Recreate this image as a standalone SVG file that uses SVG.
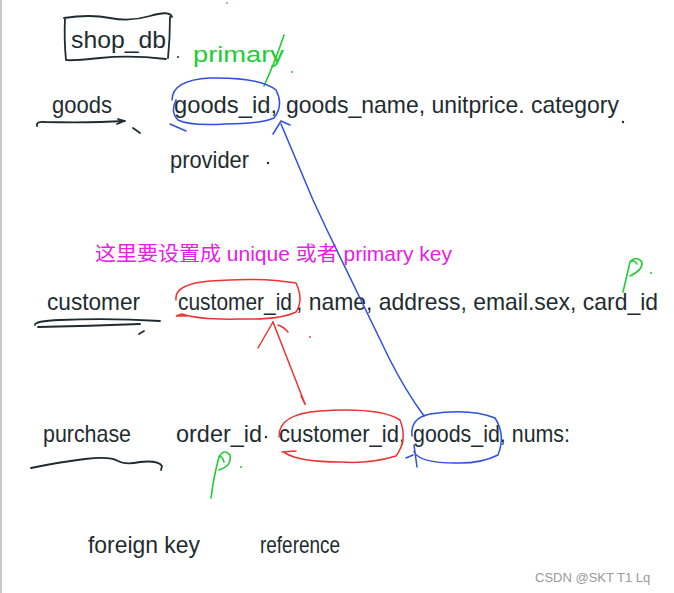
<svg xmlns="http://www.w3.org/2000/svg" width="674" height="593" viewBox="0 0 674 593">
<style>
.hw{font-family:"Liberation Sans","DejaVu Sans",sans-serif;fill:#1e2c30;font-size:24px}
.ink{fill:none;stroke:#1e2c30;stroke-width:1.8;stroke-linecap:round;stroke-linejoin:round}
.blue{fill:none;stroke:#2f4fe0;stroke-width:1.5;stroke-linecap:round}
.red{fill:none;stroke:#ee3333;stroke-width:1.5;stroke-linecap:round}
.green{fill:none;stroke:#22cc33;stroke-width:1.6;stroke-linecap:round}
.gtxt{font-family:"Liberation Sans","DejaVu Sans",sans-serif;fill:#22cc33;font-size:22px}
.cn{font-family:"Liberation Sans","Noto Sans CJK SC",sans-serif;fill:#e620e6;font-size:20px}
.wm{font-family:"Liberation Sans","DejaVu Sans",sans-serif;fill:#9a9a9a;font-size:13px}
</style>
<rect width="674" height="593" fill="#ffffff"/>
<line x1="1" y1="0" x2="1" y2="593" stroke="#c8c8c8" stroke-width="2"/>
<g id="title">
<path class="ink" d="M64,18 Q90,14 110,18 T150,16 T172,17 M170,17 Q170,38 168,58 M166,59 Q130,55 100,58 T66,60 M65,18 Q64,40 66,60"/>
<text class="hw" x="71" y="48" textLength="95" lengthAdjust="spacingAndGlyphs">shop_db</text>
<circle cx="178" cy="57" r="1" fill="#1e2c30"/>
</g>
<g id="goods">
<text class="hw" x="52" y="113" textLength="60" lengthAdjust="spacingAndGlyphs">goods</text>
<path class="ink" d="M37,126 Q36,121 45,122 Q90,123 125,121 L118,119 M125,121 L117,124"/>
<path class="ink" d="M133,128 L140,133"/>
<text class="hw" x="174" y="113" textLength="103" lengthAdjust="spacingAndGlyphs">goods_id,</text>
<text class="hw" x="286" y="113" textLength="333" lengthAdjust="spacingAndGlyphs">goods_name, unitprice. category</text>
<circle cx="623" cy="122" r="1.2" fill="#1e2c30"/>
<text class="hw" x="170" y="168" textLength="79" lengthAdjust="spacingAndGlyphs">provider</text>
<circle cx="268" cy="163" r="1.2" fill="#1e2c30"/>
</g>
<g id="customer">
<text class="hw" x="47" y="310" textLength="93" lengthAdjust="spacingAndGlyphs">customer</text>
<path class="ink" d="M35,325 Q34,321 60,320 Q110,318 160,321 M38,327 Q90,326 140,324"/>
<path class="ink" d="M139,334 L144,331"/>
<text class="hw" x="178" y="310" font-size="22" textLength="114" lengthAdjust="spacingAndGlyphs">customer_id</text>
<text class="hw" x="296" y="310" textLength="362" lengthAdjust="spacingAndGlyphs">, name, address, email.sex, card_id</text>
</g>
<g id="purchase">
<text class="hw" x="43" y="442" textLength="88" lengthAdjust="spacingAndGlyphs">purchase</text>
<path class="ink" d="M31,468 Q60,462 85,459 Q110,456 118,461 Q125,465 140,462 Q158,460 162,466 L161,470"/>
<text class="hw" x="176" y="442" textLength="86" lengthAdjust="spacingAndGlyphs">order_id</text>
<circle cx="266" cy="437" r="1.2" fill="#1e2c30"/>
<text class="hw" x="279" y="442" font-size="22" textLength="126" lengthAdjust="spacingAndGlyphs">customer_id,</text>
<text class="hw" x="413" y="442" font-size="22" textLength="157" lengthAdjust="spacingAndGlyphs">goods_id, nums:</text>
</g>
<g id="legend">
<text class="hw" x="88" y="553" textLength="112" lengthAdjust="spacingAndGlyphs">foreign key</text>
<text class="hw" x="260" y="553" textLength="80" lengthAdjust="spacingAndGlyphs">reference</text>
</g>
<g id="annotations">
<text class="gtxt" x="193" y="62" textLength="91" lengthAdjust="spacingAndGlyphs">primary</text>
<path class="green" d="M284,35 Q275,62 264,86"/>
<circle cx="292" cy="72" r="1" fill="#22cc33"/>
<path class="green" d="M623,292 L630,262 Q636,255 642,262 Q643,270 630,276 M630,262 Q634,259 637,264"/>
<circle cx="651" cy="273" r="1" fill="#22cc33"/>
<path class="green" d="M211,498 Q214,475 219,457 Q224,448 230,455 Q232,466 219,470 M219,457 Q222,455 224,462"/>
<circle cx="241" cy="467" r="1" fill="#22cc33"/>
<text class="cn" x="95" y="261" textLength="357" lengthAdjust="spacingAndGlyphs">这里要设置成 unique 或者 primary key</text>
</g>
<g id="connectors">
<path class="blue" d="M172,100 Q172,80 210,78 Q260,77 276,90 Q284,105 274,118 Q260,124 225,124 Q190,126 178,120 Q170,112 176,100 M170,124 L186,131"/>
<path class="red" d="M176,300 Q174,284 210,281 Q260,277 296,283 Q304,300 296,312 Q280,320 240,319 Q200,320 182,314 L176,316 L187,316"/>
<path class="red" d="M279,437 Q278,414 320,411 Q380,407 400,420 Q408,440 396,456 Q370,464 340,462 Q300,462 285,453 M282,452 L296,451"/>
<path class="blue" d="M412,436 Q410,418 430,414 Q470,408 495,418 Q506,435 498,455 Q480,464 455,463 Q420,463 414,452 M406,458 L413,455 M414,445 L417,467"/>
<path class="blue" d="M281,124 L313,200 Q320,215 327,230 L389,358 Q405,390 424,416"/>
<path class="blue" d="M273,134 L281,121 L290,125"/>
<path class="red" d="M273,322 L305,404"/>
<path class="red" d="M258,348 L273,322 M278,325 Q284,327 288,332 M301,396 L305,404"/>
<circle cx="310" cy="337" r="0.9" fill="#ee3333"/>
</g>
<circle cx="227" cy="3" r="0.8" fill="#2f4fe0"/>
<text class="wm" x="535" y="582">CSDN @SKT T1 Lq</text>
</svg>
